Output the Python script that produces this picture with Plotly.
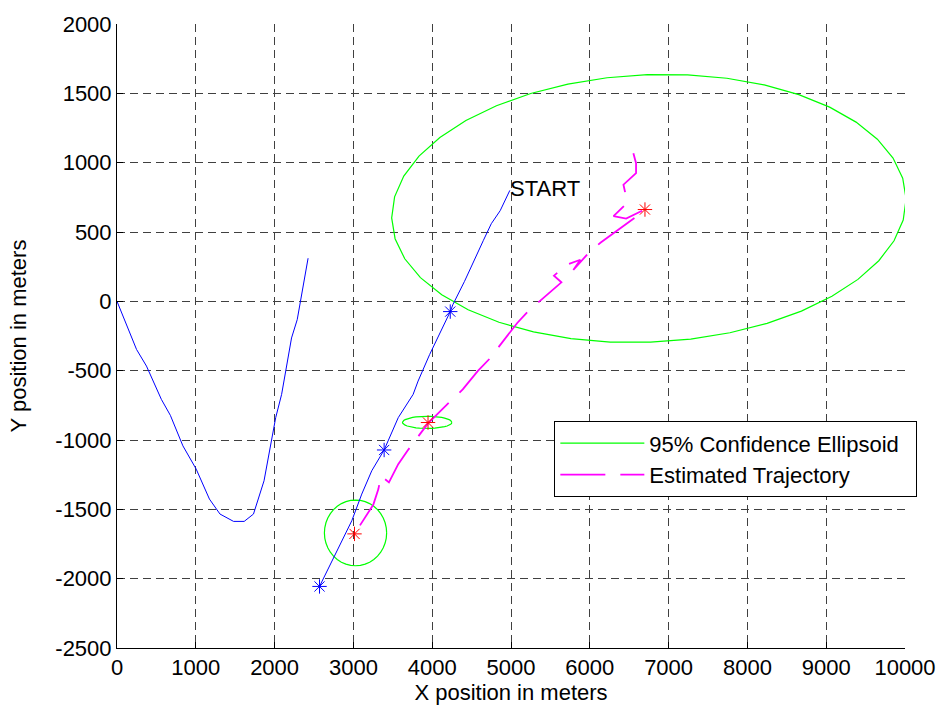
import numpy as np
import plotly.graph_objects as go

# ---- data ----
truth1_x = [0, 248, 374, 563, 677, 836, 1005, 1173, 1307, 1479, 1614, 1732, 1866, 1971, 2014, 2089, 2215, 2287, 2425]
truth1_y = [0, -347, -467, -707, -822, -1042, -1210, -1426, -1534, -1587, -1587, -1534, -1294, -958, -839, -671, -264, -132, 311]

truth2_x = [2570, 2728, 2980, 3106, 3233, 3390, 3569, 3758, 3821, 3968, 4100, 4229, 4262, 4410, 4650, 4750, 4863, 4985]
truth2_y = [-2056, -1869, -1582, -1390, -1222, -1072, -839, -671, -575, -383, -230, -74, -24, 144, 440, 560, 654, 800]

truth_star_x = [2570, 3390, 4229]
truth_star_y = [-2056, -1072, -74]

est_x = [6553, 6587, 6587, 6427, 6448, 6461, 6301, 6461, 6690, 6600, 6139, 6003, 5791, 5880, 5705, 5545,
         5640, 5217, 5079, 4725, 4577, 4388, 4190, 4039, 3947, 3686, 3569, 3451, 3350, 3317, 3253, 3014]
est_y = [1068, 996, 925, 841, 788, 702, 614, 597, 660, 615, 424, 360, 226, 300, 264, 185,
         137, -72, -156, -416, -503, -635, -743, -827, -880, -1078, -1174, -1306, -1258, -1354, -1466, -1677]

est_star_x = [3014, 3947, 6700]
est_star_y = [-1677, -874, 662]

# confidence ellipses: centre, semi-axes, tilt (degrees)
ell_cx = [6750, 3936, 3027]
ell_cy = [670, -873, -1670]
ell_a = [3265, 313, 395]
ell_b = [965, 44, 237]
ell_tilt = [1.2, 0.0, 0.0]

x_ticks = list(range(0, 10001, 1000))
y_ticks = list(range(-2500, 2001, 500))

# ---- build ellipse outlines ----
ex, ey = [], []
t = np.linspace(0, 2 * np.pi, 41)
for cx, cy, a, b, ang in zip(ell_cx, ell_cy, ell_a, ell_b, ell_tilt):
    th = np.deg2rad(ang)
    px = cx + a * np.cos(t) * np.cos(th) - b * np.sin(t) * np.sin(th)
    py = cy + a * np.cos(t) * np.sin(th) + b * np.sin(t) * np.cos(th)
    ex += list(px) + [None]
    ey += list(py) + [None]

FONT = "Arial, Liberation Sans, Helvetica, sans-serif"
NB = "\u00a0"

fig = go.Figure()
fig.add_trace(go.Scatter(x=ex, y=ey, mode="lines", name="95% Confidence Ellipsoid" + NB * 2,
                         line=dict(color="#00ff00", width=1.2)))
fig.add_trace(go.Scatter(x=est_x, y=est_y, mode="lines", name="Estimated Trajectory",
                         line=dict(color="#ff00ff", width=1.8, dash="45px,15px")))
fig.add_trace(go.Scatter(x=truth1_x, y=truth1_y, mode="lines", showlegend=False,
                         line=dict(color="#0000ff", width=1)))
fig.add_trace(go.Scatter(x=truth2_x, y=truth2_y, mode="lines", showlegend=False,
                         line=dict(color="#0000ff", width=1)))
fig.add_trace(go.Scatter(x=truth_star_x, y=truth_star_y, mode="markers", showlegend=False,
                         marker=dict(symbol="asterisk-open", size=12, color="#0000ff",
                                     line=dict(color="#0000ff", width=1))))
fig.add_trace(go.Scatter(x=est_star_x, y=est_star_y, mode="markers", showlegend=False,
                         marker=dict(symbol="asterisk-open", size=12, color="#ff0000",
                                     line=dict(color="#ff0000", width=1))))

fig.add_annotation(x=4960, y=815, text="START", showarrow=False, xanchor="left", yanchor="middle",
                   font=dict(family=FONT, size=22, color="black"))

axis_common = dict(
    showgrid=True, gridcolor="#404040", gridwidth=1, griddash="8px,5px",
    zeroline=False, showline=True, linecolor="black", linewidth=1, mirror=False,
    ticks="inside", ticklen=6, tickcolor="black",
    tickfont=dict(family=FONT, size=22, color="black"),
)

fig.update_layout(
    width=948, height=713,
    margin=dict(l=117, r=38, t=22, b=65),
    paper_bgcolor="white", plot_bgcolor="white",
    font=dict(family=FONT, size=22, color="black"),
    xaxis=dict(range=[0, 10000], tickvals=x_ticks, ticktext=[str(v) for v in x_ticks],
               title=dict(text="X position in meters", font=dict(family=FONT, size=22), standoff=4),
               **axis_common),
    yaxis=dict(range=[-2500, 2000], tickvals=y_ticks, ticktext=[str(v) for v in y_ticks],
               title=dict(text="Y position in meters", font=dict(family=FONT, size=22), standoff=22),
               **axis_common),
    legend=dict(x=0.555, y=0.3634, xanchor="left", yanchor="top",
                bgcolor="white", bordercolor="black", borderwidth=1,
                font=dict(family=FONT, size=22, color="black"),
                itemwidth=84, tracegroupgap=0),
    showlegend=True,
)

fig.write_html("out.html")
